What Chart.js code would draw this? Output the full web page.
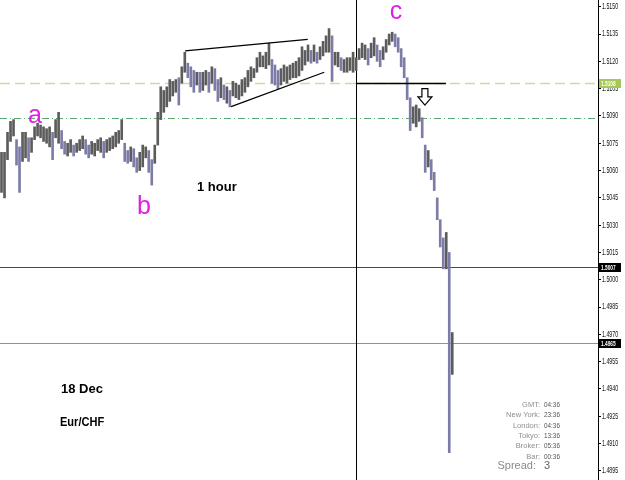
<!DOCTYPE html>
<html>
<head>
<meta charset="utf-8">
<script src="https://cdn.jsdelivr.net/npm/chart.js@4.4.1/dist/chart.umd.min.js"></script>
<style>
  html, body { margin: 0; padding: 0; background: #fff; }
  #wrap { width: 625px; height: 480px; }
</style>
</head>
<body>
<div id="wrap"><canvas id="eurchf"></canvas></div>
<script>
// hourly bars, EUR/CHF 18 Dec (high / low per bar)
const highs = [
  1.5070,1.5070,1.5081,1.5087,1.5088,1.5077,1.5073,1.5081,1.5081,1.5078,
  1.5078,1.5084,1.5086,1.5085,1.5084,1.5083,1.5084,1.5081,1.5088,1.5092,
  1.5082,1.5076,1.5075,1.5077,1.5074,1.5075,1.5077,1.5079,1.5077,1.5074,
  1.5076,1.5075,1.5077,1.5078,1.5076,1.5077,1.5078,1.5079,1.5081,1.5082,
  1.5088,1.5075,1.5071,1.5073,1.5072,1.5067,1.5070,1.5074,1.5073,1.5071,
  1.5066,1.5074,1.5092,1.5106,1.5104,1.5106,1.5110,1.5109,1.5110,1.5111,
  1.5117,1.5125,1.5119,1.5117,1.5115,1.5114,1.5114,1.5114,1.5115,1.5114,
  1.5117,1.5116,1.5110,1.5111,1.5107,1.5106,1.5104,1.5109,1.5108,1.5107,
  1.5110,1.5111,1.5115,1.5117,1.5116,1.5122,1.5125,1.5123,1.5125,1.5130,
  1.5121,1.5118,1.5115,1.5116,1.5118,1.5117,1.5118,1.5119,1.5120,1.5122,
  1.5128,1.5126,1.5129,1.5126,1.5129,1.5125,1.5128,1.5131,1.5134,1.5138,
  1.5134,1.5125,1.5125,1.5122,1.5121,1.5122,1.5122,1.5125,1.5122,1.5127,
  1.5130,1.5129,1.5127,1.5130,1.5133,1.5129,1.5126,1.5128,1.5132,1.5135,
  1.5136,1.5135,1.5133,1.5127,1.5122,1.5111,1.5100,1.5095,1.5096,1.5094,
  1.5089,1.5074,1.5071,1.5066,1.5059,1.5045,1.5033,1.5023,1.5026,1.5015,
  1.4971
];
const lows = [
  1.5048,1.5045,1.5066,1.5076,1.5079,1.5063,1.5048,1.5065,1.5067,1.5065,
  1.5070,1.5077,1.5079,1.5078,1.5076,1.5075,1.5073,1.5066,1.5078,1.5075,
  1.5072,1.5069,1.5068,1.5070,1.5068,1.5070,1.5071,1.5072,1.5069,1.5067,
  1.5069,1.5068,1.5071,1.5070,1.5067,1.5070,1.5071,1.5072,1.5073,1.5075,
  1.5077,1.5065,1.5064,1.5065,1.5062,1.5059,1.5060,1.5062,1.5067,1.5059,
  1.5052,1.5064,1.5074,1.5088,1.5092,1.5095,1.5098,1.5101,1.5103,1.5096,
  1.5108,1.5114,1.5111,1.5106,1.5103,1.5107,1.5103,1.5104,1.5107,1.5103,
  1.5108,1.5104,1.5098,1.5100,1.5099,1.5097,1.5095,1.5101,1.5100,1.5099,
  1.5101,1.5103,1.5106,1.5109,1.5111,1.5114,1.5117,1.5117,1.5116,1.5118,
  1.5108,1.5107,1.5105,1.5107,1.5109,1.5108,1.5110,1.5111,1.5111,1.5112,
  1.5115,1.5118,1.5120,1.5119,1.5120,1.5119,1.5121,1.5123,1.5125,1.5125,
  1.5109,1.5118,1.5117,1.5115,1.5114,1.5114,1.5115,1.5114,1.5115,1.5121,
  1.5122,1.5121,1.5118,1.5122,1.5123,1.5120,1.5117,1.5121,1.5125,1.5129,
  1.5131,1.5128,1.5125,1.5117,1.5111,1.5099,1.5082,1.5086,1.5084,1.5087,
  1.5078,1.5059,1.5062,1.5055,1.5049,1.5033,1.5018,1.5006,1.5006,1.4905,
  1.4948
];
const slotCount = 199; // bar slots across the window, empty ones on the right
const yTicks = [1.5150,1.5135,1.5120,1.5105,1.5090,1.5075,1.5060,1.5045,1.5030,
                1.5015,1.5000,1.4985,1.4970,1.4955,1.4940,1.4925,1.4910,1.4895];
const yMin = 1.4890, yMax = 1.51537;

// chart objects
const levelGreen = 1.5108;
const levelDashDot = 1.5089;
const levelLow1 = 1.5007;
const levelLow2 = 1.4965;
const vLineBar = 117.9;
const segment = { from: 117.9, to: 147.9, price: 1.5108 };
const trendUpper = [[61.1, 1.51257], [101.9, 1.51321]];
const trendLower = [[76.4, 1.50951], [107.4, 1.51140]];
const arrowAt = { bar: 140.9, top: 1.5105, bottom: 1.5096 };
const letters = [['a', 11.1, 1.5086], ['b', 47.4, 1.5036], ['c', 131.3, 1.5143]];
const infoLabels = ['GMT:', 'New York:', 'London:', 'Tokyo:', 'Broker:', 'Bar:'];
const infoTimes = ['04:36', '23:36', '04:36', '13:36', '05:36', '00:36'];
const spread = '3';

const sans = "'Liberation Sans', Arial, sans-serif";

// squeezed text, the terminal uses a very narrow small font
function narrowText(ctx, txt, x, y, sx) {
  ctx.save();
  ctx.translate(x, y);
  ctx.scale(sx, 1);
  ctx.fillText(txt, 0, 0);
  ctx.restore();
}

const mtObjects = {
  id: 'mtObjects',
  beforeDatasetsDraw(chart) {
    const { ctx, chartArea: a, scales: { x, y } } = chart;
    ctx.save();
    const hline = (p, color, dash, w) => {
      const yy = Math.round(y.getPixelForValue(p)) + 0.5;
      ctx.strokeStyle = color; ctx.lineWidth = w; ctx.setLineDash(dash);
      ctx.beginPath(); ctx.moveTo(a.left, yy); ctx.lineTo(a.right, yy); ctx.stroke();
    };
    hline(levelGreen, '#cdd9a2', [10, 5], 1.5);
    hline(levelDashDot, '#5fa56f', [7, 3, 1, 3], 1);
    hline(levelLow1, '#4a4a4a', [], 1);
    hline(levelLow2, '#8c9299', [], 1);
    ctx.setLineDash([]);
    const vx = Math.round(x.getPixelForValue(vLineBar)) + 0.5;
    ctx.strokeStyle = '#000'; ctx.lineWidth = 1;
    ctx.beginPath(); ctx.moveTo(vx, a.top); ctx.lineTo(vx, a.bottom); ctx.stroke();
    ctx.restore();
  },
  afterDatasetsDraw(chart) {
    const { ctx, scales: { x, y } } = chart;
    ctx.save();
    ctx.strokeStyle = '#000'; ctx.lineWidth = 1.3;
    // horizontal segment
    const sy = Math.round(y.getPixelForValue(segment.price)) + 0.5;
    ctx.beginPath(); ctx.moveTo(x.getPixelForValue(segment.from), sy);
    ctx.lineTo(x.getPixelForValue(segment.to), sy); ctx.stroke();
    // trend lines
    [trendUpper, trendLower].forEach(t => {
      ctx.beginPath();
      ctx.moveTo(x.getPixelForValue(t[0][0]), y.getPixelForValue(t[0][1]));
      ctx.lineTo(x.getPixelForValue(t[1][0]), y.getPixelForValue(t[1][1]));
      ctx.stroke();
    });
    // hollow down arrow
    const ax = x.getPixelForValue(arrowAt.bar);
    const at = y.getPixelForValue(arrowAt.top);
    const ab = y.getPixelForValue(arrowAt.bottom);
    const mid = at + (ab - at) * 0.5;
    ctx.lineWidth = 1.2; ctx.fillStyle = '#fff';
    ctx.beginPath();
    ctx.moveTo(ax - 3, at); ctx.lineTo(ax + 3, at); ctx.lineTo(ax + 3, mid);
    ctx.lineTo(ax + 7, mid); ctx.lineTo(ax, ab); ctx.lineTo(ax - 7, mid);
    ctx.lineTo(ax - 3, mid); ctx.closePath();
    ctx.fill(); ctx.stroke();
    // wave letters
    ctx.fillStyle = '#e020e0';
    ctx.font = "25px " + sans;
    ctx.textAlign = 'center'; ctx.textBaseline = 'alphabetic';
    letters.forEach(([t, i, p]) => ctx.fillText(t, x.getPixelForValue(i), y.getPixelForValue(p)));
    // screen labels
    ctx.fillStyle = '#000';
    ctx.font = "bold 13px " + sans;
    ctx.textAlign = 'left';
    ctx.fillText('1 hour', 197, 191);
    ctx.fillText('18 Dec', 61, 393);
    narrowText(ctx, 'Eur/CHF', 60, 426, 0.85);
    // clock box
    ctx.font = "7.5px " + sans;
    ctx.textBaseline = 'middle';
    infoLabels.forEach((l, k) => {
      const yy = 405 + k * 10.3;
      ctx.textAlign = 'right'; ctx.fillStyle = '#8e8e8e'; ctx.fillText(l, 540, yy);
      ctx.textAlign = 'left'; ctx.fillStyle = '#555'; narrowText(ctx, infoTimes[k], 544, yy, 0.85);
    });
    ctx.font = "11px " + sans;
    ctx.textAlign = 'right'; ctx.fillStyle = '#8a8a8a'; ctx.fillText('Spread:', 536, 466);
    ctx.textAlign = 'left'; ctx.fillStyle = '#666'; ctx.fillText(spread, 544, 466);
    ctx.restore();
  },
  afterDraw(chart) {
    const { ctx, chartArea: a, scales: { y } } = chart;
    ctx.save();
    ctx.textBaseline = 'middle'; ctx.textAlign = 'left';
    // price scale labels
    ctx.fillStyle = '#111';
    ctx.font = "8.5px " + sans;
    yTicks.forEach(v => narrowText(ctx, v.toFixed(4), a.right + 4, y.getPixelForValue(v), 0.62));
    // current level boxes
    ctx.font = "bold 8px " + sans;
    [[levelGreen, '#a6c85a'], [levelLow1, '#000'], [levelLow2, '#000']].forEach(([p, bg]) => {
      const yy = Math.round(y.getPixelForValue(p));
      ctx.fillStyle = bg; ctx.fillRect(a.right + 1, yy - 4, 22, 9);
      ctx.fillStyle = '#fff'; narrowText(ctx, p.toFixed(4), a.right + 3, yy + 0.5, 0.6);
    });
    ctx.restore();
  }
};

new Chart(document.getElementById('eurchf'), {
  type: 'bar',
  data: {
    labels: Array.from({ length: slotCount }, (_, i) => i),
    datasets: [{
      data: lows.map((l, i) => [l, highs[i]]),
      barThickness: 2,
      backgroundColor: ctx => {
        const i = ctx.dataIndex;
        if (i === 0) return '#5c5c5c';
        const m = highs[i] + lows[i], pm = highs[i - 1] + lows[i - 1];
        return m < pm - 0.0003 ? '#7c7ca6' : '#5c5c5c';
      },
      borderWidth: 0
    }]
  },
  options: {
    responsive: true,
    maintainAspectRatio: false,
    animation: false,
    layout: { padding: 0 },
    plugins: { legend: { display: false }, tooltip: { enabled: false } },
    scales: {
      x: { display: false },
      y: {
        position: 'right',
        min: yMin,
        max: yMax,
        afterBuildTicks: s => { s.ticks = yTicks.map(v => ({ value: v })); },
        afterFit: s => { s.width = 27; s.paddingTop = 0; s.paddingBottom = 0; },
        grid: { drawOnChartArea: false, drawTicks: true, tickLength: 3, color: '#000' },
        border: { display: true, color: '#000' },
        ticks: { display: false }
      }
    }
  },
  plugins: [mtObjects]
});
</script>
</body>
</html>
